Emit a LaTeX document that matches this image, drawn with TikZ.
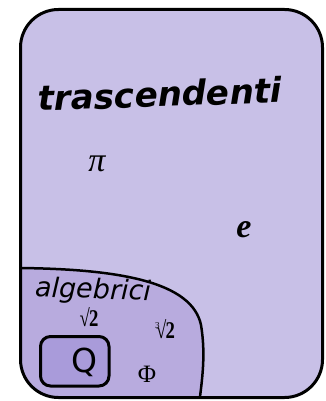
\documentclass[tikz,border=0pt]{standalone}
\usepackage{fontspec}
\setmainfont{Liberation Serif}
\newfontfamily\comicf{DejaVu Sans}
\definecolor{outerc}{HTML}{C8C0E7}
\definecolor{algc}{HTML}{B8ABDE}
\definecolor{qc}{HTML}{A99BDA}
\newcommand{\myroot}{\scalebox{0.78}[1]{\bfseries √\kern-1pt 2}}
\begin{document}
\begin{tikzpicture}[x=1pt,y=-1pt,
  border/.style={line width=3pt,draw=black},
  lbl/.style={inner sep=0pt,outer sep=0pt}]
\useasboundingbox (0,0) rectangle (326,401);
% outer set
\path[fill=outerc] (20.5,9.5) [rounded corners=38pt] rectangle (322.5,397.5);
\begin{scope}
\clip[rounded corners=38pt] (20.5,9.5) rectangle (322.5,397.5);
\fill[algc] (10,268) -- (19,268) .. controls (120,269) and (192,282) .. (201,325) .. controls (206,355) and (202,380) .. (199,405) -- (10,405) -- cycle;
\draw[line width=2.5pt] (19,268) .. controls (120,269) and (192,282) .. (201,325) .. controls (206,355) and (202,380) .. (199,405);
\end{scope}
\draw[border,rounded corners=38pt] (20.5,9.5) rectangle (322.5,397.5);
% Q box
\draw[border,fill=qc,rounded corners=10pt] (40.5,336.5) rectangle (109,386);
\node[lbl] (Q) at (84,362) {\comicf\fontsize{33}{33}\selectfont Q};
% labels
\node[lbl,rotate=2] (trasc) at (160,94) {\resizebox{244pt}{!}{\comicf\bfseries\itshape trascendenti}};
\node[lbl,rotate=-2] (alg) at (93,291) {\resizebox{116pt}{!}{\comicf\itshape algebrici}};
\node[lbl] (pi) at (97,164) {\fontsize{34}{34}\selectfont\itshape π};
\node[lbl] (e) at (244,230) {\fontsize{34}{34}\selectfont\bfseries\itshape e};
\node[lbl] (sq) at (89,317) {\fontsize{24}{24}\selectfont\myroot};
\node[lbl] (cb) at (165,329) {\fontsize{24}{24}\selectfont\raisebox{0.42em}{\fontsize{9}{9}\selectfont 3}\kern-3.5pt\myroot};
\node[lbl] (phi) at (147,374) {\fontsize{25}{25}\selectfont Φ};
\end{tikzpicture}
\end{document}
